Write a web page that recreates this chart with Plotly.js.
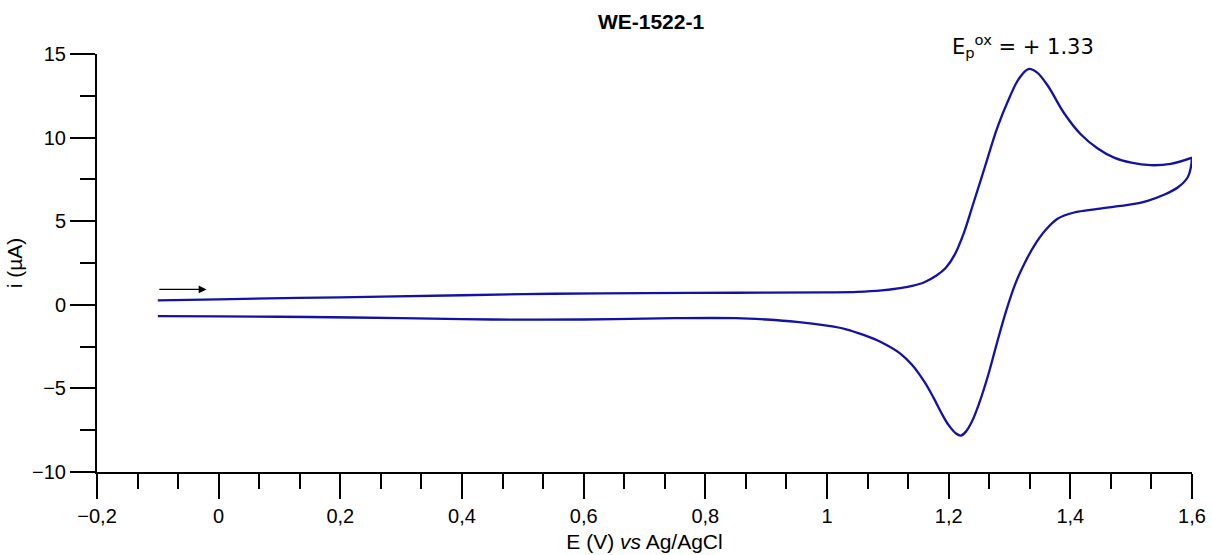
<!DOCTYPE html>
<html>
<head>
<meta charset="utf-8">
<script src="https://cdn.plot.ly/plotly-3.0.1.min.js"></script>
<style>html,body{margin:0;padding:0;background:#fff;}#chart{width:1212px;height:555px;}</style>
</head>
<body>
<div id="chart"></div>
<script>
// Forward scan (oxidation), E in V vs Ag/AgCl, i in µA
const forwardE = [-0.1, 0.0, 0.2, 0.4, 0.55, 0.7, 0.85, 1.0, 1.05, 1.09, 1.12, 1.14, 1.16, 1.18, 1.195, 1.21, 1.225, 1.24, 1.26, 1.28, 1.30, 1.315, 1.331, 1.345, 1.363, 1.389, 1.417, 1.445, 1.472, 1.50, 1.532, 1.565, 1.60];
const forwardI = [0.27, 0.33, 0.45, 0.57, 0.66, 0.70, 0.72, 0.74, 0.77, 0.86, 1.0, 1.13, 1.35, 1.75, 2.2, 3.0, 4.3, 6.0, 8.3, 10.6, 12.4, 13.5, 14.1, 13.9, 13.1, 11.5, 10.2, 9.35, 8.8, 8.5, 8.35, 8.43, 8.8];
// Reverse scan (reduction)
const reverseE = [1.60, 1.598, 1.593, 1.577, 1.554, 1.527, 1.50, 1.445, 1.406, 1.379, 1.36, 1.34, 1.325, 1.31, 1.295, 1.28, 1.265, 1.25, 1.238, 1.228, 1.22, 1.212, 1.20, 1.19, 1.175, 1.16, 1.14, 1.12, 1.09, 1.06, 1.03, 1.0, 0.95, 0.9, 0.85, 0.75, 0.6, 0.45, 0.3, 0.15, 0.0, -0.1];
const reverseI = [8.8, 8.2, 7.63, 7.03, 6.58, 6.22, 6.0, 5.74, 5.52, 5.15, 4.5, 3.5, 2.5, 1.3, -0.3, -2.2, -4.2, -5.9, -7.0, -7.6, -7.82, -7.7, -7.2, -6.6, -5.55, -4.6, -3.6, -2.9, -2.25, -1.8, -1.45, -1.25, -1.02, -0.88, -0.80, -0.80, -0.88, -0.88, -0.80, -0.73, -0.69, -0.68];

const chartTitle = '<b>WE-1522-1</b>';
const xTitle = 'E (V) <i>vs</i> Ag/AgCl';
const yTitle = 'i (µA)';
const peakLabel = 'E<sub>p</sub><sup>ox</sup> = + 1.33';
const scanArrowFrom = [-0.1, 0.92];
const scanArrowTo = [-0.02, 0.92];

const lineColor = '#1212a6';
const font = 'Liberation Sans, Arial, sans-serif';

const traces = [
  {x: forwardE, y: forwardI, mode: 'lines', line: {color: lineColor, width: 2.3, shape: 'spline', smoothing: 1}, hoverinfo: 'x+y'},
  {x: reverseE, y: reverseI, mode: 'lines', line: {color: lineColor, width: 2.3, shape: 'spline', smoothing: 1}, hoverinfo: 'x+y'}
];

const layout = {
  width: 1212, height: 555,
  margin: {l: 97, r: 20, t: 54, b: 83},
  paper_bgcolor: '#fff', plot_bgcolor: '#fff',
  showlegend: false,
  separators: ',.',
  font: {family: font, color: '#000', size: 20},
  title: {text: chartTitle, font: {family: font, size: 21, color: '#000'}, x: 651/1212, xanchor: 'center', xref: 'container', y: 1 - 22/555, yref: 'container', yanchor: 'middle'},
  xaxis: {
    range: [-0.2, 1.6], tickmode: 'linear', tick0: -0.2, dtick: 0.2,
    showline: true, linecolor: '#000', linewidth: 2,
    ticks: 'outside', ticklen: 25, tickwidth: 2, tickcolor: '#000',
    minor: {ticks: 'outside', ticklen: 15, tickwidth: 2, tickcolor: '#000', tick0: -0.2, dtick: 0.2/3, showgrid: false},
    showgrid: false, zeroline: false,
    tickfont: {family: font, size: 20, color: '#000'},
    title: {text: xTitle, font: {family: font, size: 21, color: '#000'}, standoff: 8}
  },
  yaxis: {
    range: [-10, 15], tickmode: 'linear', tick0: -10, dtick: 5,
    showline: true, linecolor: '#000', linewidth: 2,
    ticks: 'outside', ticklen: 25, tickwidth: 2, tickcolor: '#000',
    minor: {ticks: 'outside', ticklen: 15, tickwidth: 2, tickcolor: '#000', tick0: -10, dtick: 2.5, showgrid: false},
    showgrid: false, zeroline: false,
    tickfont: {family: font, size: 20, color: '#000'},
    title: {text: yTitle, font: {family: font, size: 21, color: '#000'}, standoff: 4}
  },
  annotations: [
    {x: 1.322, y: 1.02, xref: 'x', yref: 'paper', text: peakLabel, showarrow: false, xanchor: 'center', yanchor: 'middle', font: {family: 'DejaVu Sans, sans-serif', size: 21, color: '#000'}},
    {x: scanArrowTo[0], y: scanArrowTo[1], ax: scanArrowFrom[0], ay: scanArrowFrom[1], xref: 'x', yref: 'y', axref: 'x', ayref: 'y', text: '', showarrow: true, arrowhead: 2, arrowsize: 1.2, arrowwidth: 1.3, arrowcolor: '#000'}
  ]
};

Plotly.newPlot('chart', traces, layout, {displayModeBar: false, staticPlot: true});
</script>
</body>
</html>
